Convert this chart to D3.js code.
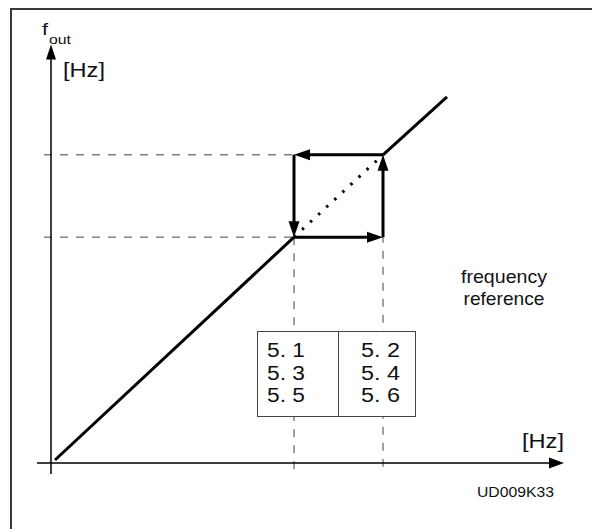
<!DOCTYPE html>
<html><head><meta charset="utf-8">
<script src="https://cdn.jsdelivr.net/npm/d3@7"></script>
<style>html,body{margin:0;padding:0;background:#fff;}svg{display:block;}</style>
</head><body>
<script>
// ---- data (in % of axis span) ----
const diagonalLine = [[0.8, 0.65], [48.6, 49.1], [66.4, 67.0], [79.2, 79.6]]; // [fin, fout]
const lowFin = 48.6, highFin = 66.4;     // hysteresis switching points (input)
const lowOut = 49.1, highOut = 67.0;     // corresponding output levels
const paramsLeft = ["5. 1", "5. 3", "5. 5"];
const paramsRight = ["5. 2", "5. 4", "5. 6"];
const yAxisLabel = "f", yAxisSub = "out", unitLabel = "[Hz]";
const refLabel = ["frequency", "reference"];
const figCode = "UD009K33";

const W = 592, H = 529;
const svg = d3.select("body").append("svg").attr("width", W).attr("height", H);
const x = d3.scaleLinear().domain([0, 100]).range([51, 551]);
const y = d3.scaleLinear().domain([0, 100]).range([463, 3]);
const font = "'Liberation Sans', Arial, Helvetica, sans-serif";

// frame
svg.append("path").attr("d", `M11,529 V9 H592`).attr("fill", "none")
  .attr("stroke", "#3a3a3a").attr("stroke-width", 2);

// dashed guides
const dash = svg.append("g").attr("stroke", "#444").attr("stroke-width", 1)
  .attr("stroke-dasharray", "8,8").attr("fill", "none");
[[lowOut, lowFin], [highOut, lowFin]].forEach(([o, f]) => {
  dash.append("line").attr("x1", x(-1.4)).attr("x2", x(f)).attr("y1", y(o)).attr("y2", y(o));
});
[[lowFin, lowOut], [highFin, highOut]].forEach(([f, o]) => {
  dash.append("line").attr("x1", x(f)).attr("x2", x(f)).attr("y1", y(o)).attr("y2", y(-1.8));
});

// axes
const ax = svg.append("g").attr("stroke", "#000").attr("stroke-width", 1.5);
ax.append("line").attr("x1", x(0)).attr("x2", x(0)).attr("y1", y(-2.4)).attr("y2", y(88));
ax.append("line").attr("x1", x(-2.8)).attr("x2", x(100)).attr("y1", y(0)).attr("y2", y(0));
function arrow(tipX, tipY, dir, len, hw) {
  const [dx, dy] = dir; const px = -dy, py = dx;
  const bx = tipX - dx * len, by = tipY - dy * len;
  return `M${tipX},${tipY}L${bx + px * hw},${by + py * hw}L${bx - px * hw},${by - py * hw}Z`;
}
svg.append("path").attr("d", arrow(x(0), y(91), [0, -1], 15, 5)).attr("fill", "#000");
svg.append("path").attr("d", arrow(x(102.6), y(0), [1, 0], 15, 5.5)).attr("fill", "#000");

// diagonal
const line = d3.line().x(d => x(d[0])).y(d => y(d[1]));
svg.append("path").attr("d", line(diagonalLine.slice(0, 2))).attr("fill", "none")
  .attr("stroke", "#000").attr("stroke-width", 3);
svg.append("path").attr("d", line(diagonalLine.slice(2))).attr("fill", "none")
  .attr("stroke", "#000").attr("stroke-width", 3);
svg.append("path").attr("d", line(diagonalLine.slice(1, 3))).attr("fill", "none")
  .attr("stroke", "#000").attr("stroke-width", 3).attr("stroke-dasharray", "2.5,8.5");

// hysteresis rectangle with arrows
const hb = svg.append("g");
const xl = x(lowFin), xr = x(highFin), yt = y(highOut), yb = y(lowOut);
const AL = 15, AW = 5.5;
hb.append("path").attr("d",
  `M${xl},${yb}H${xr - AL} M${xr},${yb}V${yt + AL} M${xr},${yt}H${xl + AL} M${xl},${yt}V${yb - AL}`)
  .attr("stroke", "#000").attr("stroke-width", 3).attr("fill", "none");
hb.append("path").attr("d",
  arrow(xr, yb, [1, 0], AL + 1, AW) + arrow(xr, yt, [0, -1], AL + 1, AW) +
  arrow(xl, yt, [-1, 0], AL + 1, AW) + arrow(xl, yb, [0, 1], AL + 1, AW))
  .attr("fill", "#000");

// helper: text with horizontally widened glyphs (reference face is wider)
function label(g, t, px, py, size, width, anchor) {
  return g.append("text").attr("x", px).attr("y", py).attr("font-size", size)
    .attr("text-anchor", anchor || "start")
    .attr("textLength", width).attr("lengthAdjust", "spacingAndGlyphs")
    .attr("xml:space", "preserve").style("white-space", "pre").text(t);
}

// parameter box
const box = svg.append("g").attr("font-family", font).attr("fill", "#111");
box.append("rect").attr("x", 257.5).attr("y", 331.5).attr("width", 158).attr("height", 85)
  .attr("fill", "#fff").attr("stroke", "#444").attr("stroke-width", 1);
box.append("line").attr("x1", 338.5).attr("x2", 338.5).attr("y1", 331.5).attr("y2", 416.5)
  .attr("stroke", "#444").attr("stroke-width", 1);
paramsLeft.forEach((t, i) => label(box, t, 267, 357 + i * 22.7, 20, 38));
paramsRight.forEach((t, i) => label(box, t, 361, 357 + i * 22.7, 20, 39));

// labels
const tx = svg.append("g").attr("font-family", font).attr("fill", "#111");
label(tx, yAxisLabel, 42, 35, 17, 6);
label(tx, yAxisSub, 49, 44, 13, 22);
label(tx, unitLabel, 63, 77, 20, 42);
label(tx, unitLabel, 522, 448, 20, 42);
refLabel.forEach((t, i) => label(tx, t, 504, 283 + i * 22, 19, i === 0 ? 86 : 81, "middle"));
label(tx, figCode, 477, 497, 15, 77);
</script>
</body></html>
